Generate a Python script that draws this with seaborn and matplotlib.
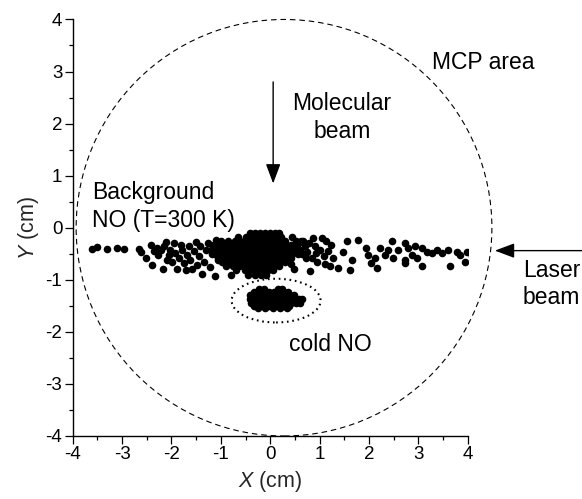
import matplotlib
matplotlib.use("Agg")
import matplotlib.pyplot as plt
from matplotlib.patches import Ellipse
import pandas as pd
import seaborn as sns

# Ion positions (cm) recorded on the detector
background_pts = [
    # sparse left wing
    (-3.60, -0.41), (-3.51, -0.37), (-3.30, -0.41), (-3.10, -0.39), (-2.97, -0.40),
    (-2.66, -0.41), (-2.62, -0.46), (-2.52, -0.59), (-2.42, -0.34), (-2.39, -0.72),
    (-2.22, -0.43), (-2.18, -0.79), (-2.12, -0.27), (-2.05, -0.53), (-1.98, -0.66),
    (-1.88, -0.79), (-1.81, -0.34), (-1.71, -0.82), (-1.68, -0.53), (-1.58, -0.79),
    (-1.51, -0.27), (-1.48, -0.72), (-2.35, -0.45), (-2.30, -0.38), (-2.28, -0.52),
    (-2.15, -0.36), (-2.10, -0.62), (-2.02, -0.42), (-1.95, -0.30), (-1.92, -0.48),
    (-1.85, -0.58), (-1.78, -0.42), (-1.75, -0.68), (-1.65, -0.36), (-1.62, -0.62),
    (-1.55, -0.45), (-1.45, -0.55), (-1.42, -0.35), (-1.38, -0.88), (-1.35, -0.65),
    (-1.30, -0.42), (-1.25, -0.30), (-1.22, -0.75), (-1.18, -0.50), (-1.12, -0.92),
    (-1.10, -0.24), (-1.05, -0.62),
    # dense core under the molecular beam
    (-0.40, -0.10), (-0.30, -0.10), (-0.20, -0.10), (-0.10, -0.10), (0.00, -0.10),
    (0.10, -0.10), (0.18, -0.10),
    (-0.65, -0.18), (-0.50, -0.18), (-0.42, -0.18), (-0.33, -0.18), (-0.24, -0.18),
    (-0.15, -0.18), (-0.06, -0.18), (0.03, -0.18), (0.12, -0.18), (0.22, -0.18),
    (0.45, -0.18),
    (-1.00, -0.26), (-0.85, -0.26), (-0.72, -0.26), (-0.62, -0.26), (-0.52, -0.26),
    (-0.43, -0.26), (-0.34, -0.26), (-0.25, -0.26), (-0.16, -0.26), (-0.07, -0.26),
    (0.02, -0.26), (0.11, -0.26), (0.20, -0.26), (0.30, -0.26), (0.52, -0.26),
    (0.62, -0.26),
    (-1.15, -0.34), (-1.05, -0.34), (-0.95, -0.34), (-0.85, -0.34), (-0.76, -0.34),
    (-0.67, -0.34), (-0.58, -0.34), (-0.49, -0.34), (-0.40, -0.34), (-0.31, -0.34),
    (-0.22, -0.34), (-0.13, -0.34), (-0.04, -0.34), (0.05, -0.34), (0.14, -0.34),
    (0.23, -0.34), (0.32, -0.34), (0.42, -0.34), (0.55, -0.34),
    (-1.20, -0.42), (-1.10, -0.42), (-1.00, -0.42), (-0.90, -0.42), (-0.81, -0.42),
    (-0.72, -0.42), (-0.63, -0.42), (-0.54, -0.42), (-0.45, -0.42), (-0.36, -0.42),
    (-0.27, -0.42), (-0.18, -0.42), (-0.09, -0.42), (0.00, -0.42), (0.09, -0.42),
    (0.18, -0.42), (0.27, -0.42), (0.37, -0.42), (0.48, -0.42), (0.60, -0.42),
    (-1.12, -0.50), (-1.02, -0.50), (-0.93, -0.50), (-0.84, -0.50), (-0.75, -0.50),
    (-0.66, -0.50), (-0.57, -0.50), (-0.48, -0.50), (-0.39, -0.50), (-0.30, -0.50),
    (-0.21, -0.50), (-0.12, -0.50), (-0.03, -0.50), (0.06, -0.50), (0.15, -0.50),
    (0.24, -0.50), (0.34, -0.50), (0.45, -0.50), (0.56, -0.50),
    (-1.05, -0.58), (-0.95, -0.58), (-0.86, -0.58), (-0.77, -0.58), (-0.68, -0.58),
    (-0.59, -0.58), (-0.50, -0.58), (-0.41, -0.58), (-0.32, -0.58), (-0.23, -0.58),
    (-0.14, -0.58), (-0.05, -0.58), (0.04, -0.58), (0.13, -0.58), (0.22, -0.58),
    (0.32, -0.58), (0.42, -0.58),
    (-0.98, -0.66), (-0.88, -0.66), (-0.79, -0.66), (-0.70, -0.66), (-0.61, -0.66),
    (-0.52, -0.66), (-0.43, -0.66), (-0.34, -0.66), (-0.25, -0.66), (-0.16, -0.66),
    (-0.07, -0.66), (0.02, -0.66), (0.11, -0.66), (0.20, -0.66), (0.30, -0.66),
    (-0.90, -0.74), (-0.75, -0.74), (-0.64, -0.74), (-0.55, -0.74), (-0.46, -0.74),
    (-0.37, -0.74), (-0.28, -0.74), (-0.19, -0.74), (-0.10, -0.74), (-0.01, -0.74),
    (0.08, -0.74), (0.18, -0.74),
    (-0.70, -0.82), (-0.52, -0.82), (-0.42, -0.82), (-0.33, -0.82), (-0.24, -0.82),
    (-0.15, -0.82), (-0.05, -0.82), (0.06, -0.82),
    (-0.80, -0.90), (-0.45, -0.90), (-0.30, -0.90), (-0.19, -0.90), (-0.08, -0.90),
    # right wing
    (0.42, -0.69), (0.48, -0.79), (0.62, -0.27), (0.72, -0.59),
    (0.67, -0.26), (0.87, -0.20), (1.04, -0.20), (0.74, -0.46), (0.81, -0.84),
    (0.84, -0.58), (1.01, -0.42), (1.14, -0.26), (1.24, -0.33), (1.28, -0.58),
    (1.21, -0.74), (1.38, -0.78), (1.48, -0.46), (1.55, -0.26), (1.65, -0.62),
    (1.62, -0.81), (1.78, -0.23), (1.95, -0.39), (1.99, -0.52), (2.05, -0.68),
    (2.16, -0.78), (2.12, -0.58), (2.22, -0.39), (2.32, -0.52), (2.39, -0.42),
    (2.46, -0.26), (2.49, -0.58), (2.59, -0.42),
    (0.70, -0.36), (0.78, -0.30), (0.92, -0.48), (0.95, -0.66), (1.08, -0.55),
    (0.65, -0.50), (0.90, -0.35), (1.12, -0.70), (1.18, -0.45),
    (2.73, -0.30), (2.80, -0.39), (2.73, -0.62), (2.73, -0.68), (2.87, -0.52),
    (2.93, -0.36), (2.97, -0.58), (3.07, -0.39), (3.07, -0.74), (3.17, -0.46),
    (3.27, -0.49), (3.37, -0.42), (3.47, -0.49), (3.61, -0.42), (3.64, -0.74),
    (3.78, -0.46), (3.84, -0.52), (3.95, -0.65), (3.98, -0.46), (4.08, -0.55),
    (4.15, -0.62), (4.22, -0.46),
]

cold_pts = [
    (-0.22, -1.17), (-0.12, -1.17), (0.16, -1.17), (0.24, -1.17),
    (-0.32, -1.23), (-0.22, -1.23), (-0.12, -1.23), (-0.02, -1.23), (0.08, -1.23),
    (0.18, -1.23), (0.28, -1.23), (0.36, -1.23),
    (-0.40, -1.30), (-0.30, -1.30), (-0.20, -1.30), (-0.10, -1.30), (0.00, -1.30),
    (0.10, -1.30), (0.20, -1.30), (0.30, -1.30), (0.40, -1.30), (0.48, -1.30),
    (-0.41, -1.37), (-0.31, -1.37), (-0.21, -1.37), (-0.11, -1.37), (-0.01, -1.37),
    (0.09, -1.37), (0.19, -1.37), (0.29, -1.37), (0.39, -1.37), (0.49, -1.37),
    (0.58, -1.37), (0.64, -1.37),
    (-0.38, -1.44), (-0.28, -1.44), (-0.18, -1.44), (-0.08, -1.44), (0.02, -1.44),
    (0.12, -1.44), (0.22, -1.44), (0.32, -1.44), (0.42, -1.44), (0.52, -1.44),
    (0.60, -1.44),
    (-0.32, -1.50), (-0.22, -1.50), (-0.12, -1.50), (-0.02, -1.50), (0.08, -1.50),
    (0.18, -1.50), (0.28, -1.50), (0.38, -1.50),
    (-0.24, -1.55), (-0.10, -1.55), (0.05, -1.55), (0.20, -1.55), (0.34, -1.55),
]

x_ticks = [-4, -3, -2, -1, 0, 1, 2, 3, 4]
y_ticks = [-4, -3, -2, -1, 0, 1, 2, 3, 4]

bg = pd.DataFrame(background_pts, columns=["x", "y"])
cold = pd.DataFrame(cold_pts, columns=["x", "y"])

sns.set_style("ticks")
plt.rcParams["font.family"] = ["Liberation Sans", "DejaVu Sans"]
plt.rcParams["mathtext.fontset"] = "custom"
plt.rcParams["mathtext.it"] = "Liberation Sans:italic"
plt.rcParams["mathtext.rm"] = "Liberation Sans"

fig = plt.figure(figsize=(5.82, 4.99), dpi=100)
ax = fig.add_axes([0.1249, 0.1263, 0.6787, 0.8347])

dot_kw = dict(color="black", s=30, linewidth=0, legend=False, ax=ax, zorder=3)
sns.scatterplot(data=bg, x="x", y="y", **dot_kw)
sns.scatterplot(data=cold, x="x", y="y", **dot_kw)

# detector outline and the cold-molecule region
ax.add_patch(Ellipse((0.28, 0.0), 8.42, 8.0, fill=False, edgecolor="black",
                     lw=0.8, linestyle=(0, (5, 3.5)), clip_on=False, zorder=2))
ax.add_patch(Ellipse((0.12, -1.40), 1.80, 0.84, fill=False, edgecolor="black",
                     lw=1.5, linestyle=(0, (0.8, 1.8)), clip_on=False, zorder=2))

arrow_kw = dict(arrowstyle="-|>,head_length=0.8,head_width=0.3", mutation_scale=15,
                lw=1.0, color="black", shrinkA=0, shrinkB=0)
ax.annotate("", xy=(0.06, 0.85), xytext=(0.06, 2.80), arrowprops=arrow_kw,
            annotation_clip=False)
ax.annotate("", xy=(4.55, -0.44), xytext=(6.35, -0.44), arrowprops=arrow_kw,
            annotation_clip=False)

txt_kw = dict(fontsize=16.5, color="black", clip_on=False, linespacing=1.25)
ax.text(3.28, 3.18, "MCP area", ha="left", va="center", **txt_kw)
ax.text(1.45, 2.12, "Molecular\nbeam", ha="center", va="center",
        multialignment="center", **txt_kw)
ax.text(-3.61, 0.41, "Background\nNO (T=300 K)", ha="left", va="center", **txt_kw)
ax.text(5.12, -1.08, "Laser\nbeam", ha="left", va="center", **txt_kw)
ax.text(1.21, -2.25, "cold NO", ha="center", va="center", **txt_kw)

ax.set_xlim(-4, 4)
ax.set_ylim(-4, 4)
ax.set_xticks(x_ticks)
ax.set_yticks(y_ticks)
ax.set_xticklabels([str(t) for t in x_ticks])
ax.set_yticklabels([str(t) for t in y_ticks])
ax.xaxis.set_minor_locator(matplotlib.ticker.MultipleLocator(0.5))
ax.yaxis.set_minor_locator(matplotlib.ticker.MultipleLocator(0.5))
ax.tick_params(which="major", direction="out", length=5.5, width=0.9,
               labelsize=13.5, pad=2, color="black", labelcolor="black")
ax.tick_params(which="minor", direction="out", length=3, width=0.9, color="black")
ax.set_xlabel("$X$ (cm)", fontsize=15.5, labelpad=4)
ax.set_ylabel("$Y$ (cm)", fontsize=15.5, labelpad=3)

sns.despine(ax=ax)
for side in ("left", "bottom"):
    ax.spines[side].set_linewidth(1.0)
    ax.spines[side].set_color("black")
ax.set_facecolor("white")
fig.patch.set_facecolor("white")

fig.savefig("out.png", dpi=100)
